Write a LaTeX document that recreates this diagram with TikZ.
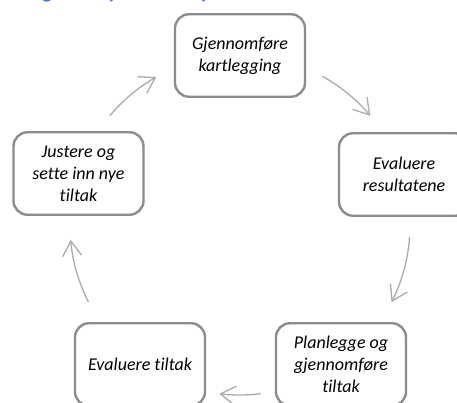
\documentclass[tikz,border=0pt]{standalone}
\usepackage{fontspec}
\setmainfont{Carlito}[Ligatures={NoCommon}]
\usetikzlibrary{arrows.meta}
\definecolor{boxgray}{HTML}{8C8C8C}
\definecolor{arrowgray}{HTML}{ABABAB}
\definecolor{titleblue}{HTML}{4178D8}
\begin{document}
\begin{tikzpicture}[x=1pt,y=1pt,
 stepbox/.style={draw=boxgray, line width=2.4pt, rounded corners=14pt, minimum width=130pt, minimum height=82.5pt, align=center, font=\fontsize{18}{22}\selectfont\itshape, inner sep=0pt, fill=white},
 cyc/.style={draw=arrowgray, line width=1.3pt, -{Straight Barb[length=15pt,width=19pt]}}]
\useasboundingbox (0,0) rectangle (457,403);
\clip (0,0) rectangle (457,403);
\node[anchor=base west, font=\fontsize{21}{25}\selectfont\bfseries, text=titleblue, inner sep=0pt] (title) at (27,404) {Figur 1: Syklus med prosessen};
\coordinate (c) at (240,178);
\node[stepbox] (n1) at (240,347.5) {Gjennomføre\\kartlegging};
\node[stepbox] (n2) at (404,228.5) {Evaluere\\resultatene};
\node[stepbox] (n3) at (341,38.5) {Planlegge og\\gjennomføre\\tiltak};
\node[stepbox] (n4) at (140,38.5) {Evaluere tiltak};
\node[stepbox] (n5) at (78.5,229.5) {Justere og\\sette inn nye\\tiltak};
\path (c) ++(61:170pt) coordinate (s1);
\path (c) ++(-4:170pt) coordinate (s2);
\path (c) ++(-83:170pt) coordinate (s3);
\path (c) ++(-153:170pt) coordinate (s4);
\path (c) ++(140:170pt) coordinate (s5);
\draw[cyc] (s1) arc[start angle=61,end angle=40,radius=170pt];
\draw[cyc] (s2) arc[start angle=-4,end angle=-27,radius=170pt];
\draw[cyc] (s3) arc[start angle=-83,end angle=-97,radius=170pt];
\draw[cyc] (s4) arc[start angle=-153,end angle=-175,radius=170pt];
\draw[cyc] (s5) arc[start angle=140,end angle=119.5,radius=170pt];
\end{tikzpicture}
\end{document}
